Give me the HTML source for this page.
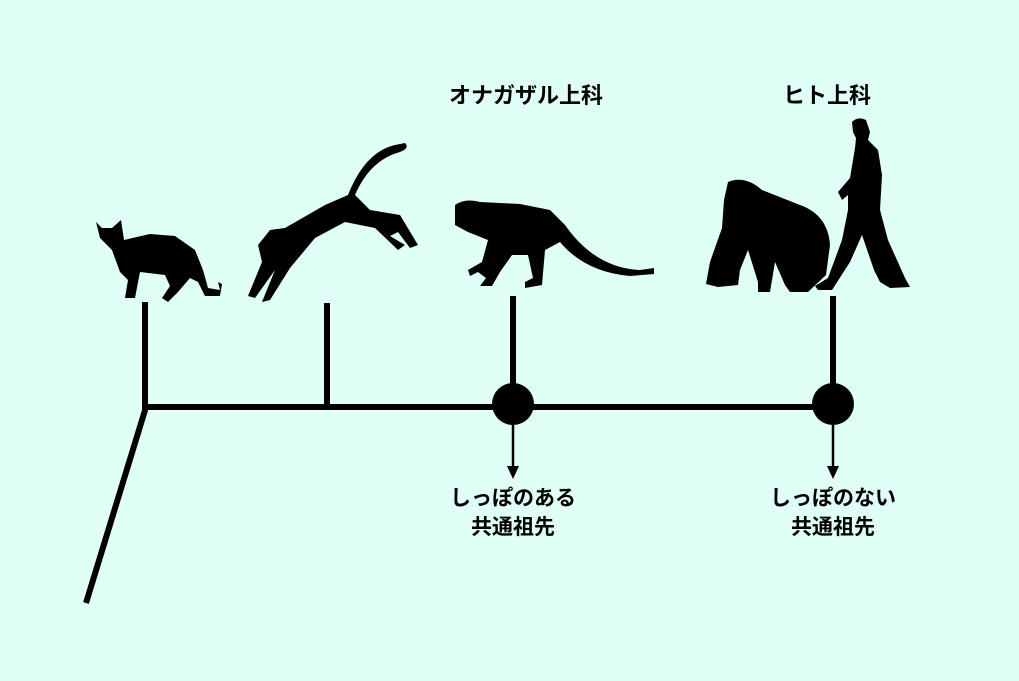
<!DOCTYPE html>
<html><head><meta charset="utf-8"><style>
body{margin:0;width:1019px;height:681px;background:#e0fff7;overflow:hidden}
svg{display:block}
text{font-family:"Liberation Sans","Noto Sans CJK JP",sans-serif;font-weight:bold;font-size:22px;fill:#000}
text.b{font-size:21px}
</style></head><body>
<svg width="1019" height="681" viewBox="0 0 1019 681">
<g stroke="#000" stroke-width="6" fill="none">
<line x1="145" y1="302" x2="145" y2="410"/>
<line x1="327" y1="303" x2="327" y2="407"/>
<line x1="513" y1="296" x2="513" y2="407"/>
<line x1="833" y1="296" x2="833" y2="407"/>
<line x1="142" y1="407" x2="836" y2="407"/>
<line x1="146" y1="407" x2="86" y2="603"/>
</g>
<g stroke="#000" stroke-width="2.5">
<line x1="513" y1="420" x2="513" y2="468"/>
<line x1="833" y1="420" x2="833" y2="468"/>
</g>
<circle cx="513" cy="404" r="21"/>
<circle cx="833" cy="404" r="21"/>
<polygon points="507,466 519,466 513,479"/>
<polygon points="827,466 839,466 833,479"/>
<g fill="#000">
<path d="M96,222 L102,228 L112,228 L121,220 L124,240 L150,234 L175,236 L195,250 L203,270 L208,288 L220,290 L218,282 L222,284 L220,296 L205,296 L198,282 L190,278 L178,292 L168,302 L162,298 L170,286 L165,275 L140,272 L135,298 L125,298 L128,280 L120,272 L112,250 L100,238 Z"/>
<path d="M405,143 Q410,148 400,152 Q370,160 355,195 L370,210 L400,215 L418,245 L410,248 L398,232 L390,236 L405,245 L398,250 L375,228 L345,222 L315,238 L290,268 L270,300 L262,302 L275,270 L255,298 L248,296 L262,262 L258,245 L270,230 L285,228 L325,205 L348,195 Q365,152 395,145 Z"/>
<path d="M455,205 Q465,198 480,202 L520,204 L550,210 L565,225 Q595,268 640,270 L654,268 L654,274 L630,276 Q585,272 560,242 L545,250 L542,285 L525,288 L525,282 L533,278 L528,255 L512,255 L500,272 L492,286 L480,286 L486,278 L478,272 L470,276 L468,270 L482,262 L488,240 L468,232 L455,225 Z"/>
<path d="M728,182 Q745,175 762,190 L800,205 Q828,215 830,245 L826,275 L808,292 L790,292 L785,285 L775,262 L770,292 L758,292 L758,282 L748,250 L740,270 L738,285 L718,287 L706,284 L710,262 L722,228 L724,200 Z"/>
<path d="M852,122 Q858,116 866,120 L870,132 L868,140 L878,150 L882,175 L880,210 L888,240 L905,278 L910,287 L890,288 L880,282 L874,270 L862,235 L850,262 L832,290 L818,290 L815,286 L828,278 L842,240 L848,210 L848,195 L842,200 L838,192 L850,178 L855,148 L856,138 L853,132 Z"/>
</g>
<text x="526" y="103" text-anchor="middle">オナガザル上科</text>
<text x="827" y="103" text-anchor="middle">ヒト上科</text>
<text class="b" x="513" y="505" text-anchor="middle">しっぽのある</text>
<text class="b" x="513" y="534" text-anchor="middle">共通祖先</text>
<text class="b" x="833" y="505" text-anchor="middle">しっぽのない</text>
<text class="b" x="833" y="534" text-anchor="middle">共通祖先</text>
</svg>
</body></html>
